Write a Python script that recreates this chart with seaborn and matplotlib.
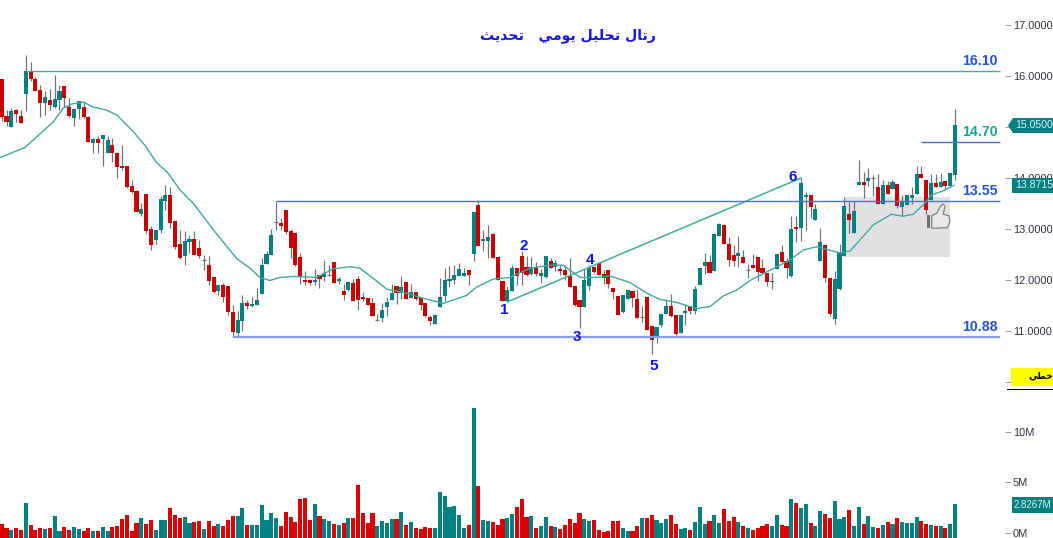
# Daily chart of a Saudi stock: candles, moving average, volume, support / resistance levels

import numpy as np
import pandas as pd
import matplotlib.pyplot as plt
import seaborn as sns
from matplotlib.patches import Polygon, Rectangle

# ── 1. Data ───────────────────────────────────────────────────
opens = [15.94,15.22,15.00,15.34,15.22,15.65,16.09,15.94,15.73,15.47,
         15.53,15.39,15.53,15.80,15.39,15.18,15.35,15.39,15.20,14.69,
         14.77,14.77,14.49,14.65,14.49,14.24,14.24,13.84,13.75,13.29,
         13.69,13.00,12.78,12.98,13.55,13.67,13.16,12.71,12.47,12.74,
         12.80,12.63,12.39,12.29,12.06,11.78,11.90,11.88,11.37,10.96,
         11.20,11.55,11.49,11.51,11.73,12.31,12.49,13.13,13.12,13.37,
         12.96,12.92,12.45,12.00,12.00,11.96,12.10,12.06,12.10,12.35,
         11.98,11.78,11.80,11.94,12.02,11.67,11.65,11.55,11.22,11.25,
         11.47,11.61,11.88,11.75,11.96,11.65,11.77,11.65,11.55,11.27,
         11.14,11.47,11.69,11.98,12.00,12.08,12.08,12.20,12.51,13.47,
         12.77,12.77,12.90,12.45,11.98,11.59,11.78,12.24,12.47,12.26,
         12.12,12.26,12.08,12.06,12.37,12.26,12.22,12.20,12.08,11.88,
         11.61,11.47,11.88,12.26,12.33,12.12,12.20,11.84,11.69,11.37,
         11.63,11.78,11.63,11.28,11.67,11.10,10.86,11.12,11.33,11.49,
         11.31,10.96,11.35,11.49,11.39,11.90,12.27,12.35,12.18,12.86,
         13.08,12.71,12.49,12.47,12.45,12.20,12.29,12.45,12.24,12.14,
         11.96,12.22,12.55,12.37,12.08,13.04,13.02,13.63,13.67,13.18,
         12.37,12.69,12.04,11.23,11.82,12.47,13.29,12.92,13.86,13.92,
         13.94,14.00,13.82,13.49,13.86,13.78,13.88,13.43,13.47,13.61,
         13.69,14.08,13.96,13.57,13.90,13.82,13.94,13.84,14.06]
closes = [15.20,15.10,15.31,15.25,15.08,16.10,15.94,15.71,15.47,15.59,
          15.43,15.55,15.71,15.57,15.22,15.35,15.51,15.20,14.71,14.77,
          14.69,14.84,14.75,14.49,14.22,14.20,13.82,13.72,13.33,13.39,
          12.96,12.69,12.98,13.59,13.67,13.12,12.65,12.43,12.76,12.80,
          12.49,12.47,12.39,11.98,11.77,11.90,11.67,11.37,10.98,11.22,
          11.55,11.49,11.53,11.61,12.29,12.51,12.88,13.13,13.06,12.94,
          12.63,12.29,12.06,11.96,11.94,12.00,12.02,12.14,12.10,11.94,
          12.02,11.71,11.96,11.59,11.61,11.63,11.51,11.29,11.22,11.41,
          11.57,11.75,11.75,11.86,11.63,11.77,11.63,11.51,11.29,11.20,
          11.31,11.67,12.00,12.02,12.10,12.22,12.14,12.10,13.33,12.67,
          12.80,12.84,12.43,12.00,11.59,11.80,12.24,12.08,12.14,12.10,
          12.26,12.12,12.14,12.47,12.24,12.33,12.18,12.10,11.86,11.51,
          11.47,12.00,12.24,12.16,12.10,12.03,11.92,11.77,11.31,11.71,
          11.80,11.65,11.25,11.28,11.02,10.82,11.08,11.33,11.49,11.29,
          10.94,11.31,11.39,11.39,11.82,12.24,12.35,12.14,12.90,13.10,
          12.71,12.39,12.37,12.53,12.33,12.20,12.24,12.16,12.14,11.96,
          11.99,12.51,12.35,12.24,13.00,13.00,13.90,13.67,13.43,13.39,
          12.75,12.04,11.33,12.02,12.53,13.45,13.18,13.35,13.92,13.86,
          14.00,14.00,13.49,13.86,13.69,13.92,13.45,13.53,13.67,13.67,
          14.08,14.00,13.37,13.90,13.82,13.92,13.84,14.10,15.04]
highs = [15.94,15.33,15.37,15.36,15.33,16.41,16.27,15.98,15.82,15.71,
         15.75,16.02,15.82,15.80,15.56,15.35,15.51,15.49,15.22,14.79,
         14.82,14.84,14.82,14.78,14.51,14.65,14.24,13.96,13.77,13.51,
         13.69,13.06,12.98,13.65,13.86,13.82,13.16,12.98,12.96,12.88,
         12.96,12.78,12.49,12.47,12.06,11.90,11.94,11.88,11.51,11.39,
         11.71,11.61,11.67,11.84,12.43,12.57,13.00,13.55,13.22,13.37,
         13.00,12.92,12.53,12.18,12.02,12.22,12.10,12.39,12.29,12.35,
         12.06,11.92,11.96,12.02,12.08,11.76,11.65,11.65,11.33,11.55,
         11.67,11.92,11.88,12.08,11.96,11.92,11.77,11.65,11.55,11.31,
         11.33,12.04,12.23,12.27,12.29,12.33,12.23,12.20,13.33,13.57,
         12.98,13.08,12.92,12.45,11.98,11.88,12.29,12.24,12.57,12.47,
         12.45,12.35,12.22,12.47,12.43,12.39,12.29,12.29,12.43,11.88,
         11.61,12.22,12.29,12.26,12.33,12.19,12.20,11.84,11.69,11.71,
         11.80,11.78,11.82,11.49,11.67,11.10,11.08,11.33,11.61,11.73,
         11.31,11.31,11.53,11.49,11.88,12.24,12.53,12.49,12.92,13.12,
         13.10,12.84,12.69,12.86,12.59,12.31,12.51,12.45,12.41,12.14,
         12.14,12.51,12.69,12.43,13.25,13.25,14.00,13.72,13.67,13.49,
         13.02,12.69,12.04,12.18,12.71,13.63,13.53,13.55,14.35,14.12,
         14.20,14.06,14.08,13.96,13.94,13.96,13.88,13.67,13.67,13.82,
         14.24,14.24,13.96,14.08,14.08,14.10,13.94,14.10,15.35]
lows = [15.12,15.01,15.00,15.10,15.08,15.32,15.91,15.71,15.20,15.23,
        15.33,15.37,15.33,15.40,15.20,15.02,15.16,15.18,14.71,14.49,
        14.49,14.24,14.49,14.31,14.00,14.16,13.80,13.71,13.33,13.26,
        12.92,12.59,12.71,12.92,13.37,13.02,12.61,12.41,12.29,12.53,
        12.49,12.43,12.20,11.90,11.75,11.71,11.57,11.31,10.88,10.88,
        11.00,11.43,11.47,11.51,11.73,12.31,12.49,12.98,12.98,12.90,
        12.43,12.27,11.92,11.90,11.90,11.90,11.84,11.98,12.08,11.94,
        11.92,11.61,11.78,11.59,11.41,11.59,11.51,11.29,11.20,11.18,
        11.29,11.61,11.53,11.63,11.63,11.65,11.61,11.41,11.27,11.12,
        11.14,11.47,11.59,11.86,11.92,12.08,12.08,11.90,12.37,12.67,
        12.57,12.43,12.43,12.00,11.59,11.57,11.78,11.90,11.90,12.08,
        12.10,12.08,11.94,12.04,12.24,12.18,12.10,12.00,11.86,11.49,
        11.06,11.47,11.80,12.14,12.10,11.92,11.84,11.63,11.31,11.35,
        11.63,11.47,11.25,11.18,11.02,10.55,10.76,11.08,11.33,11.27,
        10.92,10.96,11.12,11.33,11.33,11.90,12.12,12.14,12.18,12.86,
        12.71,12.27,12.27,12.26,12.33,12.04,12.24,11.98,12.14,11.88,
        11.82,12.22,12.35,12.04,12.06,12.75,12.76,12.96,13.21,13.18,
        12.37,11.96,11.29,11.14,11.80,12.47,12.92,12.92,13.86,13.61,
        13.84,13.65,13.49,13.49,13.69,13.78,13.41,13.25,13.47,13.49,
        13.69,14.00,13.29,13.57,13.82,13.82,13.78,13.84,13.96]
# volume in millions
volumes = [.89,.49,.30,.49,.30,2.96,.79,.30,.49,.39,
           .49,1.68,.20,.59,.30,.59,.39,.20,.49,.20,
           .20,.59,.20,.59,.69,1.38,1.78,.20,.99,1.48,
           .89,1.28,.30,1.28,1.28,2.47,1.78,1.48,1.58,.99,
           1.09,1.18,.39,1.18,.69,.89,.69,1.28,1.68,1.68,
           2.47,.79,.79,.79,2.76,1.28,1.97,1.48,.69,2.07,
           1.58,1.09,3.36,3.45,1.28,2.86,1.68,1.38,1.18,.89,
           .79,.99,1.48,1.48,4.74,1.97,.99,1.97,.69,1.18,
           .99,1.38,1.38,2.07,.79,1.09,.49,.39,.59,.49,
           .49,4.05,3.65,2.57,2.66,1.78,.49,.79,12.34,4.64,
           1.28,1.18,1.09,.79,1.38,1.48,1.88,2.57,3.36,1.58,
           1.68,.49,.69,1.58,.69,.59,.39,.79,1.38,.99,
           1.97,1.38,1.18,1.28,.30,.10,.20,1.18,1.18,.49,
           .20,.20,.69,1.48,1.48,1.78,1.28,.99,1.38,1.78,
           .89,.39,.49,.30,1.09,2.57,.89,1.18,1.78,.99,
           2.37,1.18,1.58,1.09,.69,.49,.30,.49,.69,.89,
           .69,1.78,.79,.69,3.36,2.96,2.47,2.86,.99,.69,
           2.17,1.88,1.48,3.16,1.38,1.58,2.27,.69,2.57,.89,
           1.68,.59,.49,.79,1.09,.89,1.48,1.09,.99,.99,
           1.58,1.18,.89,.79,.69,.69,.49,.89,2.83]

# moving average, read at a number of candles
ma_idx = [-0.35,4.85,7.3,10.7,12.8,14.5,17,18.7,21.8,24,27.3,30,32,34.6,37,39.8,44,48.8,51.6,53.6,
          55.7,57.8,60.6,65.4,68.9,72.3,74.4,77.2,80,84.1,87.6,91.7,96.6,98.6,102.1,105.6,
          109.7,113.9,116.6,120.1,123.6,126.3,130.5,134,136.7,140.2,144.3,147.1,149.9,152.6,155.4,
          158.9,163.7,166.5,169.2,171.7,174.1,176.2,178.2,181,184.8,187.2,189.3,191.7,193.1,195.6,197.8]
ma_val = [14.40,14.60,14.81,15.10,15.37,15.45,15.49,15.40,15.33,15.23,14.91,14.61,14.32,14.09,13.77,13.50,12.98,12.42,12.23,12.05,
          11.99,12.05,12.07,12.05,12.22,12.26,12.23,12.03,11.82,11.74,11.64,11.54,11.70,11.86,12.02,12.05,
          12.23,12.29,12.29,12.05,12.05,12.08,11.95,11.74,11.62,11.56,11.44,11.48,11.69,11.80,11.99,
          12.16,12.39,12.59,12.65,12.59,12.53,12.57,12.78,13.08,13.29,13.25,13.29,13.50,13.67,13.75,13.86]

price_ticks = [10, 11, 12, 13, 14, 15, 16, 17]
# 10 and 15 sit fully behind the yellow box and the last-price tag
price_tick_labels = ["", "11.0000", "12.0000", "13.0000", "14.0000", "", "16.0000", "17.0000"]
vol_ticks = [0, 5, 10]
vol_tick_labels = ["0M", "5M", "10M"]

# level, first candle
levels = [16.10, 13.55, 10.88]
level_starts = [5, 57, 48]
target_level = 14.70
target_start = 190.9
trend_idx = [105, 166]
trend_val = [11.57, 14.00]
zone_idx = [175.1, 196.95]
zone_val = [12.46, 13.63]
wave_labels = ["1", "2", "3", "4", "5", "6"]
title_text = "رتال تحليل يومي   تحديث"
scale_text = "خطي"

# ── 2. Arabic shaping (matplotlib does not join letters itself) ───
# letter: isolated, final, initial, medial
FORMS = {"ر": (0xFEAD, 0xFEAE), "ت": (0xFE95, 0xFE96, 0xFE97, 0xFE98), "ا": (0xFE8D, 0xFE8E),
         "ل": (0xFEDD, 0xFEDE, 0xFEDF, 0xFEE0), "ح": (0xFEA1, 0xFEA2, 0xFEA3, 0xFEA4),
         "ي": (0xFEF1, 0xFEF2, 0xFEF3, 0xFEF4), "و": (0xFEED, 0xFEEE),
         "م": (0xFEE1, 0xFEE2, 0xFEE3, 0xFEE4), "د": (0xFEA9, 0xFEAA),
         "ث": (0xFE99, 0xFE9A, 0xFE9B, 0xFE9C), "خ": (0xFEA5, 0xFEA6, 0xFEA7, 0xFEA8),
         "ط": (0xFEC1, 0xFEC2, 0xFEC3, 0xFEC4)}

def shape_arabic(text):
    out = []
    for i, ch in enumerate(text):
        if ch not in FORMS:
            out.append(ch)
            continue
        prev = text[i - 1] if i > 0 else " "
        nxt = text[i + 1] if i + 1 < len(text) else " "
        joins_prev = prev in FORMS and len(FORMS[prev]) == 4
        joins_next = nxt in FORMS and len(FORMS[ch]) == 4
        idx = {(False, False): 0, (True, False): 1, (False, True): 2, (True, True): 3}[(joins_prev, joins_next)]
        out.append(chr(FORMS[ch][idx]))
    return "".join(reversed(out))

# ── 3. Table and layout ───────────────────────────────────────
df = pd.DataFrame({"idx": np.arange(len(opens)), "open": opens, "high": highs,
                   "low": lows, "close": closes, "vol": volumes})
df["dir"] = np.where(df["close"] >= df["open"], "up", "down")
print(df.shape)

TEAL = "#008080"
RED = "#c80000"
VOL_RED = "#dc0000"
LINE_GREEN = "#3fae9c"
BLUE_LINE = "#4f6fd0"
W, H = 1053, 538
PITCH, X0 = 4.815, 1.7   # pixels per candle, pixel of candle 0
AXIS_RIGHT = 1005
PRICE_BOTTOM = 395
BAR_WIDTH = 0.85

sns.set_theme(style="white")
plt.rcParams["font.family"] = ["Liberation Sans", "DejaVu Sans"]

def px(x, y):
    return x / W, 1 - y / H

fig = plt.figure(figsize=(W / 100, H / 100), dpi=100, facecolor="white")
ax = fig.add_axes([0, 1 - PRICE_BOTTOM / H, AXIS_RIGHT / W, PRICE_BOTTOM / H], facecolor="none")
ax_vol = fig.add_axes([0, 0, AXIS_RIGHT / W, (H - PRICE_BOTTOM) / H], facecolor="none")
xlim = (-X0 / PITCH, (AXIS_RIGHT - X0) / PITCH)

# ── 4. Price panel ────────────────────────────────────────────
ax.add_patch(Rectangle((zone_idx[0], zone_val[0]), zone_idx[1] - zone_idx[0], zone_val[1] - zone_val[0],
                       facecolor="#e2e2e5", edgecolor="none", zorder=1))
ax.vlines(df["idx"], df["low"], df["high"], color="#707070", linewidth=0.85, zorder=2)
bodies = df[df["open"] != df["close"]]
ax.bar(bodies["idx"], (bodies["open"] - bodies["close"]).abs(), bottom=bodies[["open", "close"]].min(axis=1),
       width=BAR_WIDTH, color=bodies["dir"].map({"up": TEAL, "down": RED}), linewidth=0, zorder=3)
doji = df[df["open"] == df["close"]]
ax.hlines(doji["open"], doji["idx"] - 0.4, doji["idx"] + 0.4, color="#707070", linewidth=0.85, zorder=3)

sns.lineplot(x=ma_idx, y=ma_val, color="#3fa9a0", linewidth=1.0, ax=ax, zorder=4)
sns.lineplot(x=trend_idx, y=trend_val, color=LINE_GREEN, linewidth=1.1, ax=ax, zorder=4)

right_idx = (1000 - X0) / PITCH
ax.hlines(levels[0], level_starts[0], right_idx, color=LINE_GREEN, linewidth=1.0, zorder=4)
ax.hlines(levels[1], level_starts[1], right_idx, color=BLUE_LINE, linewidth=1.0, zorder=4)
ax.hlines(levels[2], level_starts[2], right_idx, color="#8a9fe4", linewidth=1.6, zorder=4)
ax.hlines(target_level, target_start, right_idx, color=BLUE_LINE, linewidth=1.0, zorder=4)

ax.set_xlim(xlim)
ax.set_ylim(11 - (PRICE_BOTTOM - 331) / 51, 11 + 331 / 51)
ax.set_yticks(price_ticks)
ax.set_yticklabels(price_tick_labels)
ax.set_xticks([])

# ── 5. Volume panel ───────────────────────────────────────────
vol_floor = -0.5   # bars run on below the 0M tick, down to the picture edge
df["vol_h"] = df["vol"] - vol_floor
sns.barplot(data=df, x="idx", y="vol_h", hue="dir", palette={"up": TEAL, "down": VOL_RED},
            native_scale=True, dodge=False, width=BAR_WIDTH, bottom=vol_floor, errorbar=None,
            saturation=1, linewidth=0, legend=False, ax=ax_vol)
ax_vol.set_xlim(xlim)
ax_vol.set_ylim(vol_floor, (533 - PRICE_BOTTOM) / 10.13)
ax_vol.set_yticks(vol_ticks)
ax_vol.set_yticklabels(vol_tick_labels)
ax_vol.set_xticks([])
ax_vol.set_xlabel("")
ax_vol.set_ylabel("")

for a in (ax, ax_vol):
    sns.despine(ax=a, left=True, bottom=True, top=True, right=True)
    a.yaxis.tick_right()
    a.tick_params(axis="y", right=True, left=False, length=4.3, width=0.8, color="#a0a0a0",
                  pad=1.5, labelsize=7.9, labelcolor="#333344")
    a.grid(False)

# ── 6. Labels and tags ────────────────────────────────────────
def label(x, y, text, color, size=10.2, **kw):
    fx, fy = px(x, y)
    fig.text(fx, fy, text, color=color, fontsize=size, fontweight="bold", ha="center", va="center", zorder=8, **kw)

label(980, 61, "16.10", "#2a55d0")
label(980, 132, "14.70", "#1fa58f")
label(980, 191, "13.55", "#2a55d0")
label(980, 327, "10.88", "#2a55d0")

wave_xy = [(504, 310), (524, 246), (577, 337), (590, 260), (654, 366), (793, 177)]
for (x, y), t in zip(wave_xy, wave_labels):
    label(x, y, t, "#0a14e6", size=11)

label(568, 36, shape_arabic(title_text), "#1414f0", size=10.2, family=["DejaVu Sans"])

def tag(points, color):
    fig.add_artist(Polygon([px(*p) for p in points], closed=True, transform=fig.transFigure,
                           facecolor=color, edgecolor="none", zorder=6))

def tag_text(x, y, text, size=7.6, color="#e4f4f2"):
    fx, fy = px(x, y)
    fig.text(fx, fy, text, color=color, fontsize=size, ha="left", va="center", zorder=7)

tag([(1008, 125.5), (1013, 118), (1053, 118), (1053, 133), (1013, 133)], TEAL)
tag_text(1015, 125.5, "15.0500")
tag([(1012, 178), (1053, 178), (1053, 193), (1012, 193)], TEAL)
tag_text(1015, 185.5, "13.8715")
tag([(1012, 497), (1053, 497), (1053, 513), (1012, 513)], TEAL)
tag_text(1014, 505, "2.8267M", size=7)

tag([(1011, 368), (1053, 368), (1053, 386), (1011, 386)], "#ffff00")
fx, fy = px(1041, 375.5)
fig.text(fx, fy, shape_arabic(scale_text), color="black", fontsize=6.6, fontweight="bold", family=["DejaVu Sans"],
         ha="center", va="center", zorder=7)
tag([(1007, 388.6), (1053, 388.6), (1053, 389.6), (1007, 389.6)], "black")

# thumbs-up drawn on the grey zone
thumb = [(931.7, 215.7), (936.7, 213.3), (940, 207.3), (942.7, 204), (945, 206), (943.3, 214.3),
         (949, 215.7), (950, 221.7), (947.3, 227.7), (931.7, 228.3)]
fig.add_artist(Polygon([px(*p) for p in thumb], closed=True, transform=fig.transFigure,
                       facecolor="#e8e8e8", edgecolor="#808080", linewidth=0.9, zorder=6))
tag([(927, 215), (930, 215), (930, 228), (927, 228)], "#6e6e6e")

plt.savefig("out.png", dpi=100, facecolor="white")
plt.close()
print("Saved out.png")
